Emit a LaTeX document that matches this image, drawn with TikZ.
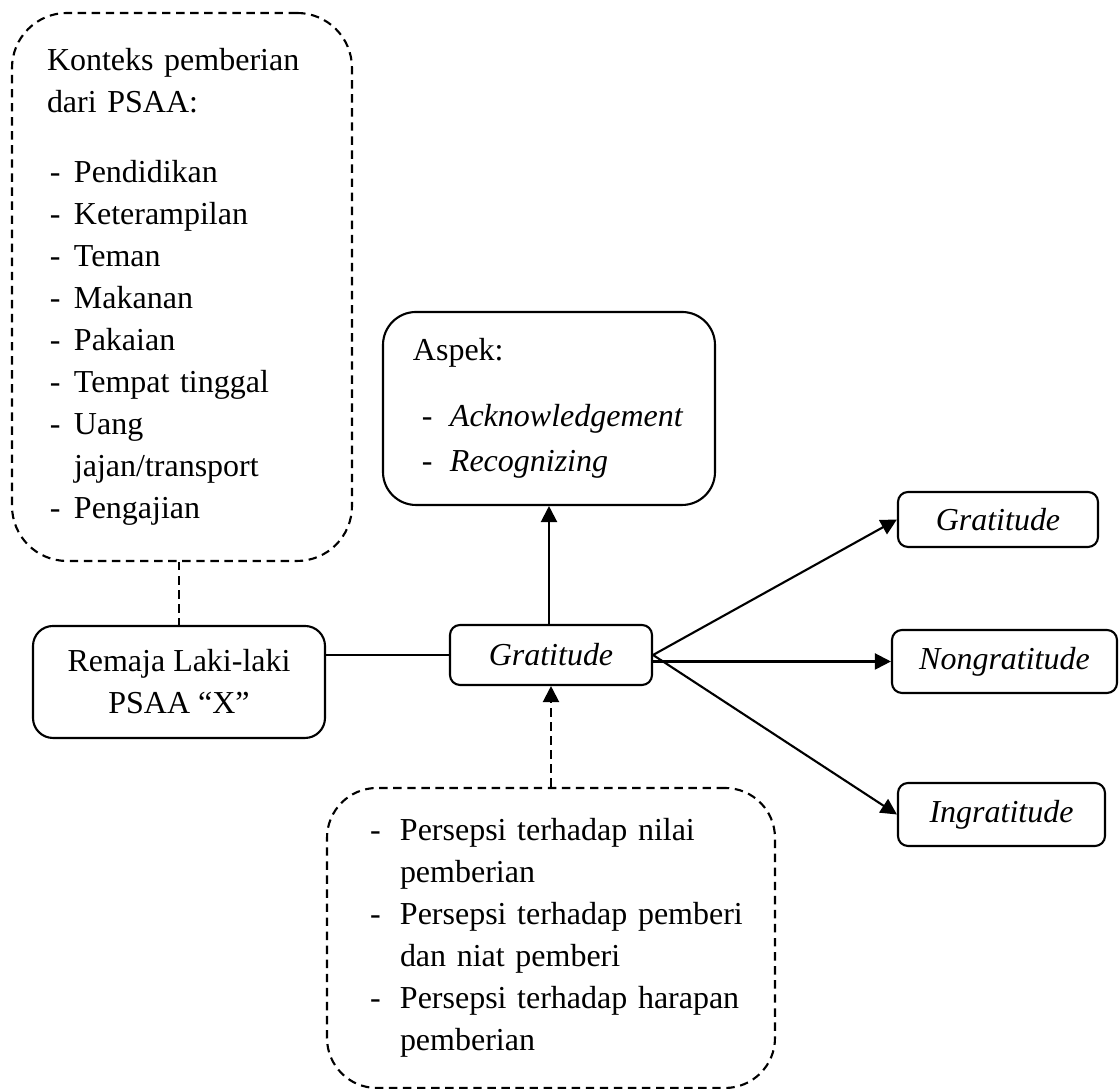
\documentclass[tikz,border=0pt]{standalone}
\usepackage{fontspec}
\setmainfont{Liberation Serif}
\usetikzlibrary{arrows.meta}
\newcommand{\ditem}[2]{\mbox{\makebox[#1][l]{-}#2}}

\begin{document}
\begin{tikzpicture}[
  txt/.style={font=\fontsize{9.1pt}{11.95pt}\selectfont},
  dsh/.style={dash pattern=on 2.4pt off 1.6pt},
  box/.style={txt,draw,line width=0.6pt,rounded corners=#1,inner sep=0pt},
  box/.default=0.1cm,
  dbox/.style={box=#1,dsh},
  wire/.style={line width=0.6pt},
  tip/.style={-{Triangle[length=1.6mm,width=1.6mm]}}
]
\useasboundingbox (0,0) rectangle (11.19,10.89);

% ---- LEFT: context of giving and the subject ----
\node[dbox=0.55cm,minimum width=3.40cm,minimum height=5.48cm,
      text width=2.70cm,align=left] (kon) at (1.82,8.02)
  {Konteks pemberian\\
   dari PSAA:\\[0.28cm]
   \hspace*{0.03cm}\ditem{0.24cm}{Pendidikan}\\
   \hspace*{0.03cm}\ditem{0.24cm}{Keterampilan}\\
   \hspace*{0.03cm}\ditem{0.24cm}{Teman}\\
   \hspace*{0.03cm}\ditem{0.24cm}{Makanan}\\
   \hspace*{0.03cm}\ditem{0.24cm}{Pakaian}\\
   \hspace*{0.03cm}\ditem{0.24cm}{Tempat tinggal}\\
   \hspace*{0.03cm}\ditem{0.24cm}{Uang}\\
   \hspace*{0.27cm}jajan/transport\\
   \hspace*{0.03cm}\ditem{0.24cm}{Pengajian}};

\node[box=0.2cm,minimum width=2.92cm,minimum height=1.12cm,align=center]
  (rem) at (1.79,4.07) {Remaja Laki-laki\\ PSAA ``X''};

% ---- MIDDLE: gratitude, its aspects and what shapes it ----
\node[box,minimum width=2.02cm,minimum height=0.60cm] (grat) at (5.51,4.34)
  {\textit{Gratitude}};

\node[box=0.33cm,minimum width=3.32cm,minimum height=1.93cm,
      text width=2.72cm,align=left] (asp) at (5.49,6.805)
  {Aspek:\\[0.24cm]
   \hspace*{0.09cm}\ditem{0.28cm}{\textit{Acknowledgement}}\\[0.03cm]
   \hspace*{0.09cm}\ditem{0.28cm}{\textit{Recognizing}}};

\node[dbox=0.5cm,minimum width=4.48cm,minimum height=3.00cm,
      text width=3.62cm,align=left] (bot) at (5.51,1.51)
  {\ditem{0.30cm}{Persepsi terhadap nilai}\\
   \hspace*{0.30cm}pemberian\\
   \ditem{0.30cm}{Persepsi terhadap pemberi}\\
   \hspace*{0.30cm}dan niat pemberi\\
   \ditem{0.30cm}{Persepsi terhadap harapan}\\
   \hspace*{0.30cm}pemberian};

% ---- RIGHT: outcomes ----
\node[box,minimum width=2.00cm,minimum height=0.55cm] (gr1) at (9.98,5.695)
  {\textit{Gratitude}};
\node[box,minimum width=2.25cm,minimum height=0.63cm] (non) at (10.045,4.275)
  {\textit{Nongratitude}};
\node[box,minimum width=2.07cm,minimum height=0.63cm] (ingr) at (10.015,2.745)
  {\textit{Ingratitude}};

% connectors
\draw[wire,dsh] (kon.south -| rem) -- (rem.north);
\draw[wire] (grat.west -| rem.east) -- (grat.west);
\draw[wire,tip] (asp.south |- grat.north) -- (asp.south);
\draw[wire,dsh,tip] (bot.north) -- (bot.north |- grat.south);
\draw[wire,tip] (grat.east) -- (gr1.west);
\draw[wire,tip] (grat.east |- non.west) -- (non.west);
\draw[wire,tip] (grat.east) -- (ingr.west);

\end{tikzpicture}
\end{document}
